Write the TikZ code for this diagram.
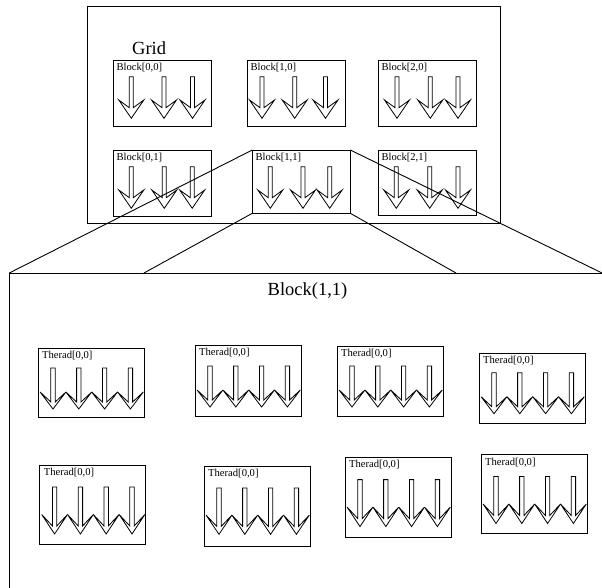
\documentclass[tikz,border=0pt]{standalone}
\usepackage{fontspec}
\setmainfont{Liberation Serif}
\newcommand\blkarrow[2]{%
  \draw[arr] ({#1-2},#2) -- ({#1-2},{#2+31}) -- ({#1-12.5},{#2+23.3}) -- (#1,{#2+41.6})
    -- ({#1+12.5},{#2+23.3}) -- ({#1+2},{#2+31}) -- ({#1+2},#2) -- cycle;}
% c, top, vertical scale
\newcommand\thrarrow[3]{%
  \draw[arr] ({#1-2.2},#2) -- ({#1-2.2},{#2+34*#3}) -- ({#1-12.9},{#2+24*#3}) -- (#1,{#2+41*#3})
    -- ({#1+12.9},{#2+24*#3}) -- ({#1+2.2},{#2+34*#3}) -- ({#1+2.2},#2) -- cycle;}
% name, left, top, height, arrow top, scale
\newcommand\threadbox[6]{%
  \node[tbox, minimum height=#4pt] (#1) at (#2,#3) {};
  \node[lbl] (#1l) at ([shift={(4,10.5)}]#1.north west) {Therad[0,0]};
  \foreach \i in {0,...,3} {\pgfmathsetmacro\cx{#2+15+25.8*\i}\thrarrow{\cx}{#5}{#6}}
}
% name, left, top, height, label, arrow top, c1, c2, c3
\newcommand\blockbox[9]{%
  \node[bbox, minimum height=#4pt] (#1) at (#2,#3) {};
  \node[lbl] (#1l) at ([shift={(3,10)}]#1.north west) {#5};
  \blkarrow{#7}{#6}\blkarrow{#8}{#6}\blkarrow{#9}{#6}
}
\begin{document}
\begin{tikzpicture}[x=1pt,y=-1pt,
  box/.style={draw, line width=0.9pt, inner sep=0pt, outer sep=0pt, anchor=north west},
  bbox/.style={box, minimum width=98pt},
  tbox/.style={box, minimum width=106pt},
  lbl/.style={font=\fontsize{10.6}{12}\selectfont, inner sep=0pt, anchor=base west},
  big/.style={font=\fontsize{18.5}{21}\selectfont, inner sep=0pt},
  arr/.style={draw, line width=0.8pt, line join=miter},
  link/.style={draw, line width=0.9pt}]
\useasboundingbox (0,0) rectangle (602,587);
\clip (0,0) rectangle (602,587);
% Grid
\node[box, minimum width=412.7pt, minimum height=216.3pt] (grid) at (87.3,6.7) {};
\node[big, anchor=base west] (gridl) at (132,54) {Grid};
\blockbox{b00}{113.3}{60.7}{65.3}{Block[0,0]}{76.7}{131.3}{164}{192.5}
\blockbox{b10}{247.3}{60.7}{65.3}{Block[1,0]}{76.7}{262}{294.7}{325.5}
\blockbox{b20}{378.3}{60.7}{65.3}{Block[2,0]}{76.7}{397}{430.3}{458}
\blockbox{b01}{113.3}{150.7}{65.3}{Block[0,1]}{166.7}{131.3}{164.3}{192.2}
\blockbox{b21}{378.3}{150.7}{65}{Block[2,1]}{166.7}{396.3}{429.7}{458}
\blockbox{b11}{252.3}{150}{63.3}{Block[1,1]}{166.7}{270.3}{303}{329.7}
% enlarged block
\node[box, minimum width=700pt, minimum height=400pt] (bigblk) at (9.3,273) {};
\node[big, anchor=base] (bigl) at (307.5,295) {Block(1,1)};
\coordinate (c2) at (144,273);
\coordinate (c3) at (456,273);
\coordinate (c4) at (602,273);
\draw[link] (b11.north west) -- (bigblk.north west);
\draw[link] (b11.south west) -- (c2);
\draw[link] (b11.south east) -- (c3);
\draw[link] (b11.north east) -- (c4);
% threads
\threadbox{t1}{38}{348}{69}{368}{1}
\threadbox{t2}{195}{345}{71}{366}{1}
\threadbox{t3}{337}{346}{70}{366}{1}
\threadbox{t4}{479}{353.3}{70}{372.7}{1}
\threadbox{t5}{39.6}{465}{79.6}{487}{1.146}
\threadbox{t6}{204}{466}{80.5}{488}{1.13}
\threadbox{t7}{345}{457}{80}{479.6}{1.146}
\threadbox{t8}{481}{454.6}{79.2}{476.5}{1.146}
\end{tikzpicture}
\end{document}
